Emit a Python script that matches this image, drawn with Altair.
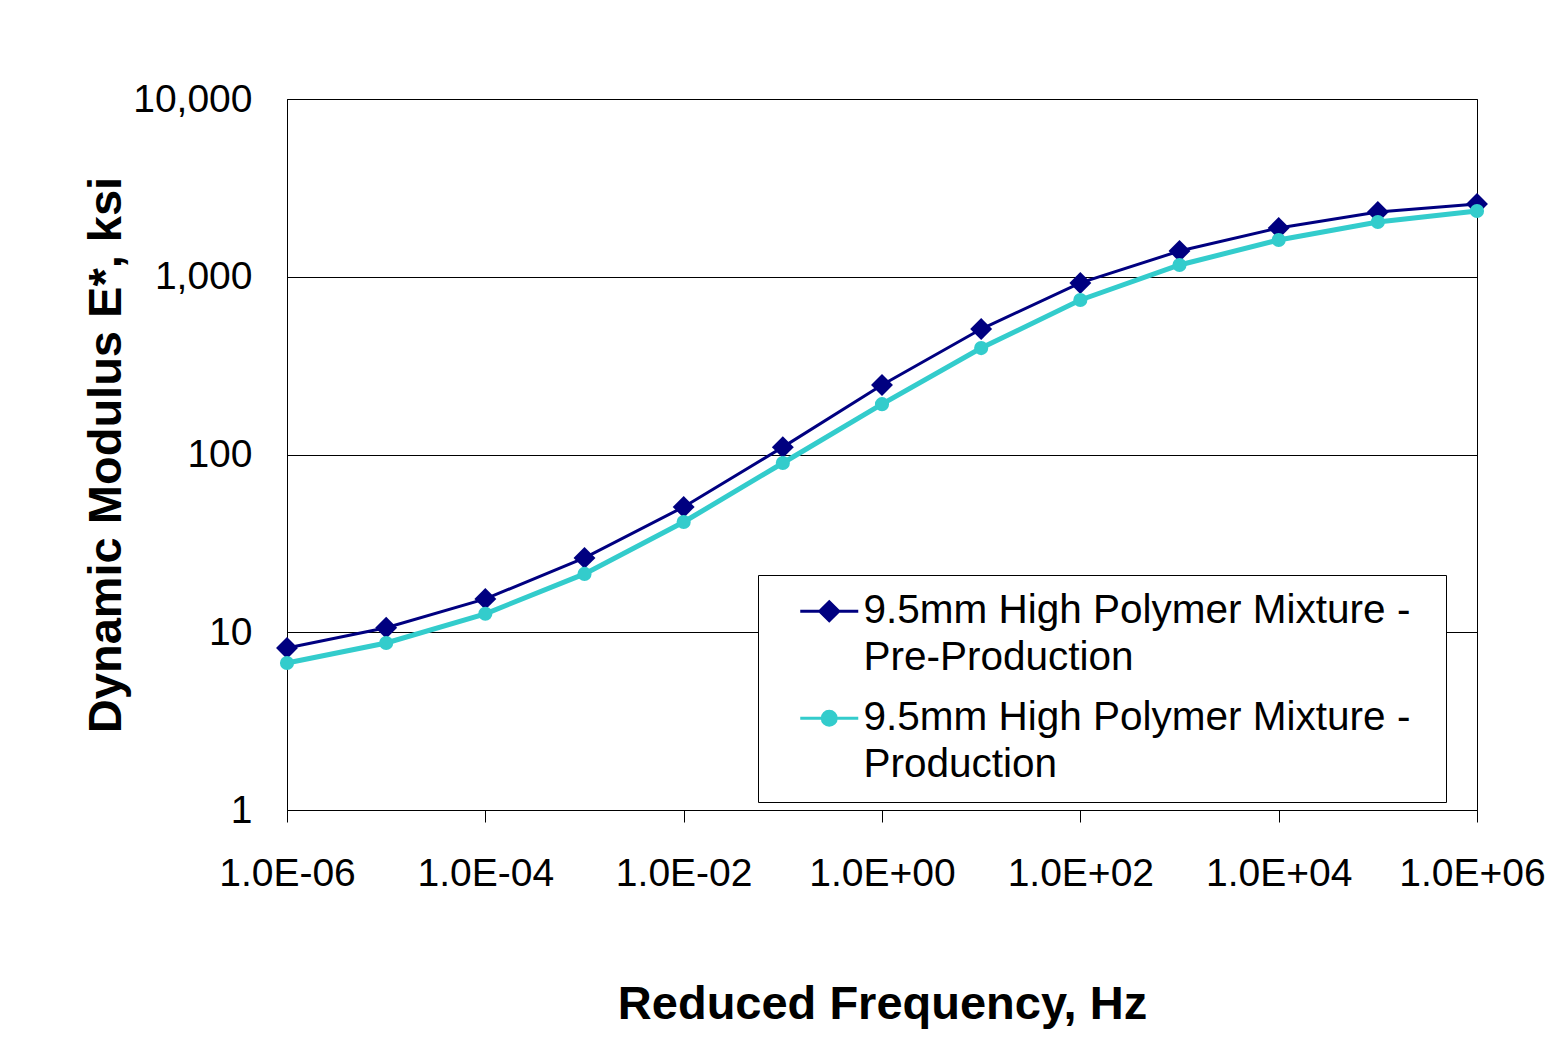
import altair as alt
import pandas as pd

freq = [1e-6, 1e-5, 1e-4, 1e-3, 1e-2, 1e-1, 1e0, 1e1, 1e2, 1e3, 1e4, 1e5, 1e6]
pre_production = [8.15, 10.6, 15.4, 26.2, 50.7, 110, 246, 508, 923, 1396, 1881, 2312, 2566]
production = [6.71, 8.70, 12.7, 21.3, 41.7, 89.6, 192, 397, 740, 1165, 1610, 2033, 2344]
series_names = ["Pre-Production", "Production"]
legend_line1 = "9.5mm High Polymer Mixture -"
x_ticks = [1e-6, 1e-4, 1e-2, 1e0, 1e2, 1e4, 1e6]
y_ticks = [1, 10, 100, 1000, 10000]

NAVY = "#000080"
CYAN = "#33CCCC"
FONT = "Liberation Sans"

rows = []
for f, a, b in zip(freq, pre_production, production):
    rows.append({"freq": f, "modulus": a, "series": "Pre-Production"})
    rows.append({"freq": f, "modulus": b, "series": "Production"})
df = pd.DataFrame(rows)

x_enc = alt.X(
    "freq:Q",
    scale=alt.Scale(type="log", domain=[1e-6, 1e6], nice=False),
    axis=alt.Axis(
        values=x_ticks,
        title="Reduced Frequency, Hz",
        labelExpr="'1.0E' + (datum.value >= 1 ? '+' : '-') + (abs(round(log(datum.value)/LN10)) < 10 ? '0' : '') + abs(round(log(datum.value)/LN10))",
        labelFlush=False,
        labelOffset={"expr": "datum.value >= 1e6 ? -5 : 0"},
        grid=False,
        tickSize=12,
        tickColor="black",
        domainColor="black",
        labelPadding=32,
        titlePadding=88,
    ),
)
y_enc = alt.Y(
    "modulus:Q",
    scale=alt.Scale(type="log", domain=[1, 10000], nice=False),
    axis=alt.Axis(
        values=y_ticks,
        format=",d",
        title="Dynamic Modulus E*, ksi",
        grid=True,
        gridColor="black",
        gridOpacity=1,
        ticks=False,
        tickSize=0,
        domainColor="black",
        labelPadding=35,
        titlePadding=2,
    ),
)

base = alt.Chart(df)
layers = []
for name, col, width, shape, size in [
    ("Pre-Production", NAVY, 3, "diamond", 480),
    ("Production", CYAN, 5, "circle", 200),
]:
    sub = base.transform_filter(alt.datum.series == name)
    layers.append(sub.mark_line(color=col, strokeWidth=width).encode(x=x_enc, y=y_enc))
    layers.append(
        sub.mark_point(shape=shape, filled=True, color=col, size=size, opacity=1).encode(x=x_enc, y=y_enc)
    )

# custom legend symbols (unit space scaled by sqrt(size)/2 = 10px);
# the trailing lone move-to only widens the legend box to the right
diamond_path = "M-2.9,0H2.9M0,-0.95L0.95,0L0,0.95L-0.95,0ZM59.4,0"
circle_path = "M-2.9,0H2.9M-0.7,0A0.7,0.7 0 1,1 0.7,0A0.7,0.7 0 1,1 -0.7,0ZM59.4,0"

legend_expr = (
    "datum.label == 'Pre-Production' ? ['" + legend_line1 + "', 'Pre-Production']"
    " : ['" + legend_line1 + "', 'Production']"
)

legend = alt.Legend(
    title=None,
    orient="none",
    legendX=471,
    legendY=476,
    strokeColor="black",
    fillColor="white",
    padding=16,
    labelFont=FONT,
    labelFontSize=40.5,
    labelColor="black",
    labelLimit=2000,
    labelExpr=legend_expr,
    labelOffset=14,
    symbolOffset=35,
    symbolSize=400,
    symbolStrokeWidth=3,
    symbolOpacity=1,
    rowPadding=19,
    labelBaseline="middle",
)

color_scale = alt.Scale(domain=series_names, range=[NAVY, CYAN])
legend_layer = base.mark_point(opacity=0).encode(
    x=x_enc,
    y=y_enc,
    fill=alt.Fill("series:N", scale=color_scale, legend=legend),
    stroke=alt.Stroke("series:N", scale=color_scale, legend=legend),
    shape=alt.Shape(
        "series:N",
        scale=alt.Scale(domain=series_names, range=[diamond_path, circle_path]),
        legend=legend,
    ),
)

chart = (
    alt.layer(*layers, legend_layer)
    .properties(
        width=1190,
        height=711,
        autosize=alt.AutoSizeParams(type="none"),
        padding={"left": 279, "top": 91, "right": 69, "bottom": 230},
        background="white",
    )
    .configure(style={"guide-label": {"lineHeight": 47}})
    .configure_view(stroke="black", strokeWidth=1)
    .configure_axis(
        labelFont=FONT,
        labelFontSize=39,
        labelColor="black",
        titleFont=FONT,
        titleFontSize=47,
        titleFontWeight="bold",
        titleColor="black",
        domainWidth=1,
        gridWidth=1,
    )
)

chart.save("out.html", embed_options={"renderer": "svg", "actions": False})
